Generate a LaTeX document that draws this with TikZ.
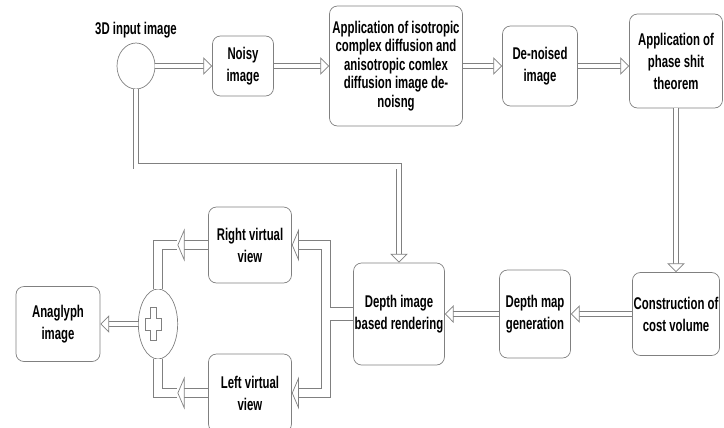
\documentclass[tikz,border=0pt]{standalone}
\usepackage{fontspec}
\newfontfamily\chartfont[FakeStretch=0.67]{Liberation Sans}
\usetikzlibrary{arrows.meta, positioning, shapes.geometric}

\tikzset{
  txt/.style={font=\chartfont\bfseries\fontsize{14.5}{18.8}\selectfont},
  block/.style={txt, draw=gray, line width=0.6pt, rounded corners=0.24cm, align=center, inner sep=1pt},
  flow/.style={draw=gray, line width=0.6pt, double=white, double distance=3.8pt,
    -{Triangle[open, fill=white, length=7.5pt, width=15pt, line width=0.6pt]}},
  wideflow/.style={flow, double distance=7.5pt,
    -{Triangle[open, fill=white, length=6pt, width=28pt, line width=0.6pt]}},
  widejoin/.style={draw=gray, line width=0.6pt, double=white, double distance=7pt},
}

\begin{document}
\begin{tikzpicture}
\useasboundingbox (0,0) rectangle (21.72,-12.81);

% upper chain
\node[draw=gray, line width=0.6pt, ellipse, inner sep=0pt, minimum width=1.14cm, minimum height=1.38cm,
  label={[txt]above:3D input image}] (input) at (4.08,-1.98) {};
\node[block, minimum width=1.83cm, minimum height=1.8cm, right of=input, xshift=2.21cm] (noisy) {Noisy\\image};
\node[block, minimum width=3.99cm, minimum height=3.6cm, right of=noisy, xshift=3.59cm,
  font=\chartfont\bfseries\fontsize{14.5}{15.8}\selectfont] (diffusion)
  {Application of isotropic\\complex diffusion and\\anisotropic comlex\\diffusion image de-\\noisng};
\node[block, minimum width=2.25cm, minimum height=2.4cm, right of=diffusion, xshift=3.32cm] (denoised) {De-noised\\image};
\node[block, minimum width=2.79cm, minimum height=2.82cm, right of=denoised, xshift=3.08cm, yshift=0.15cm] (phase)
  {Application of\\phase shit\\theorem};

% lower chain
\node[block, minimum width=2.58cm, minimum height=2.49cm, below of=phase, yshift=-6.59cm] (cost) {Construction of\\cost volume};
\node[block, minimum width=2.13cm, minimum height=2.64cm, left of=cost, xshift=-3.23cm] (depthmap) {Depth map\\generation};
\node[block, minimum width=2.7cm, minimum height=3.06cm, left of=depthmap, xshift=-3.08cm] (dibr) {Depth image\\based rendering};
\node[block, minimum width=2.49cm, minimum height=2.28cm, left of=dibr, xshift=-3.47cm, yshift=2.07cm] (rightview) {Right virtual\\view};
\node[block, minimum width=2.49cm, minimum height=2.34cm, left of=dibr, xshift=-3.47cm, yshift=-2.37cm] (leftview) {Left virtual\\view};
\node[draw=gray, line width=0.6pt, ellipse, inner sep=0pt, minimum width=1.18cm, minimum height=2.1cm,
  left of=dibr, xshift=-6.23cm, yshift=-0.3cm,
  path picture={\draw[gray, line width=0.6pt] ([shift={(-0.24,0.495)}]path picture bounding box.center)
    -- ++(0.18,0) -- ++(0,-0.315) -- ++(0.15,0) -- ++(0,-0.36) -- ++(-0.15,0) -- ++(0,-0.315)
    -- ++(-0.18,0) -- ++(0,0.315) -- ++(-0.15,0) -- ++(0,0.36) -- ++(0.15,0) -- cycle;}] (plus) {};
\node[block, minimum width=2.52cm, minimum height=2.25cm, left of=plus, xshift=-2.0cm] (anaglyph) {Anaglyph\\image};

\coordinate (split) at ([xshift=-0.81cm]dibr.west);
\coordinate (rsplit) at (split |- rightview.east);
\coordinate (lsplit) at (split |- leftview.east);
\coordinate (trunkr) at ([xshift=3.8pt]split);
\coordinate (stubtop) at ([yshift=5.3pt]dibr.west);
\coordinate (stubbot) at ([yshift=-5.3pt]dibr.west);
\coordinate (rtip) at ([xshift=-0.92cm]rightview.west);
\coordinate (ltip) at ([xshift=-0.92cm]leftview.west);

% connectors
\draw[flow] (input.east) -- (noisy.west);
\draw[flow] (noisy.east) -- (diffusion.west);
\draw[flow] (diffusion.east) -- (denoised.west);
\draw[flow] (denoised.east) -- (denoised.east -| phase.west);
\draw[flow] (phase.south) -- (cost.north);
\draw[flow] (cost.west) -- (depthmap.east);
\draw[flow] (depthmap.west) -- (dibr.east);
\draw[flow] (input.south) -- ++(0,-2.31) -| (dibr.north);

% split towards the two views
\draw[gray, line width=0.6pt, fill=white]
  ([shift={(-3.8pt,4.05pt)}]rsplit) -- ([shift={(3.8pt,4.05pt)}]rsplit) -- (trunkr |- stubtop) -- (stubtop)
  -- (stubbot) -- (trunkr |- stubbot) -- ([shift={(3.8pt,-4.05pt)}]lsplit) -- ([shift={(-3.8pt,-4.05pt)}]lsplit) -- cycle;
\draw[wideflow] ([xshift=-3.5pt]rsplit) -- (rightview.east);
\draw[wideflow] ([xshift=-3.5pt]lsplit) -- (leftview.east);

% views into the adder
\draw[widejoin] (plus.north) |- (rtip);
\draw[widejoin] (plus.south) |- (ltip);
\draw[wideflow] (rightview.west) -- (rtip);
\draw[wideflow] (leftview.west) -- (ltip);
\draw[flow] (plus.west) -- (anaglyph.east);
\end{tikzpicture}
\end{document}
